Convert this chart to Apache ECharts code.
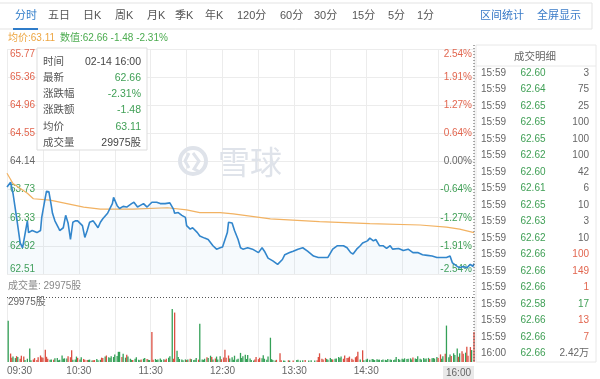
<!DOCTYPE html>
<html><head><meta charset="utf-8">
<script src="https://cdn.jsdelivr.net/npm/echarts@6/dist/echarts.min.js"></script>
<style>html,body{margin:0;padding:0;background:#fff}#c{width:600px;height:379px}</style>
</head><body><div id="c"></div>
<script>
const FONT = 'Arial, "Liberation Sans", "Noto Sans CJK SC", sans-serif';
const RED = '#e2664f', GREEN = '#3f9f55', GRAY = '#666';

// ---- data ----
const prevClose = 64.14;
const priceMin = 62.51, priceMax = 65.77, priceStep = 0.4075;
const volMax = 29975;

const tabLabels = ['分时','五日','日K','周K','月K','季K','年K','120分','60分','30分','15分','5分','1分'];
const linkLabels = ['区间统计','全屏显示'];

const xLabelMinutes = [0, 60, 120, 180, 240, 300, 390];
const xLabelTexts = ['09:30','10:30','11:30','12:30','13:30','14:30','16:00'];

const priceMinutes = [0,3,5,8,11,13,17,18,21,25,28,29,32,33,35,37,38,40,43,44,47,49,51,53,55,57,59,63,65,67,69,72,74,76,78,80,84,86,88,89,92,94,97,100,104,106,109,111,114,117,121,125,128,132,136,139,140,143,146,149,150,153,155,159,161,165,168,172,175,178,180,184,185,188,190,193,195,197,201,205,210,213,215,218,222,226,230,232,236,239,243,247,251,256,260,264,268,272,276,281,284,287,289,292,295,297,301,303,306,308,311,314,317,320,322,327,331,335,339,343,347,351,355,359,363,367,370,372,376,378,381,384,387,389,390];
const prices = [63.77,63.84,63.68,63.33,62.96,62.89,63.28,63.11,63.14,63.11,63.14,63.33,63.62,63.71,63.70,63.50,63.39,63.28,63.18,63.14,63.18,63.36,63.25,63.01,63.26,63.28,63.28,63.21,63.04,63.14,63.26,63.28,63.23,63.18,63.26,63.31,63.39,63.46,63.53,63.62,63.50,63.46,63.49,63.48,63.53,63.55,63.48,63.50,63.53,63.48,63.55,63.55,63.53,63.53,63.54,63.45,63.39,63.40,63.36,63.33,63.21,63.16,63.18,63.11,63.06,63.03,63.01,62.92,62.87,62.89,62.90,63.11,63.26,63.25,63.14,63.01,62.89,62.87,62.89,62.87,62.82,62.89,62.84,62.74,62.70,62.65,62.72,62.79,62.82,62.84,62.87,62.89,62.84,62.77,62.75,62.75,62.75,62.87,62.92,62.92,62.89,62.82,62.80,62.87,62.92,62.96,62.99,63.03,62.99,63.01,62.92,62.92,62.88,62.92,62.87,62.88,62.85,62.87,62.82,62.82,62.79,62.78,62.77,62.75,62.75,62.75,62.77,62.67,62.62,62.60,62.62,62.60,62.65,62.62,62.66];

const avgMinutes = [0,5,17,22,36,50,64,78,105,134,150,161,178,189,220,261,303,345,367,378,390];
const avgPrices = [63.97,63.82,63.68,63.60,63.58,63.53,63.48,63.45,63.45,63.47,63.44,63.40,63.40,63.38,63.31,63.27,63.24,63.22,63.19,63.16,63.11];

const volMinutes = [1,3,4,5,7,8,9,11,12,14, 15,17,19,20,22,23,25,26,28,29, 30,32,33,34,36,37,39,40,42,43, 44,46,47,48,50,51,53,54,55,57,
 58,59,61,62,64,65,67,68,69,71, 72,73,75,76,78,79,80,82,83,85, 86,87,89,90,92,93,94,96,97,99, 100,101,103,104,105,107,108,110,111,112,
 114,115,117,118,119,121,122,124,125,126, 128,129,131,132,133,135,136,138,139,140, 142,143,144,146,147,149,150,151,153,154,
 156,157,158,160,161,163,164,165,167,168, 170,171,172,174,175,176,178,179,181,182, 183,185,186,188,189,190,192,193,195,196,
 197,199,200,201,203,204,206,207,208,210, 211,213,214,215,217,218,220,221,222,224, 225,228,229,231,232,235,236,239,242,243,
 245,247,249,252,254,257,259,260,261,263, 264,266,267,268,270,271,272,274,275,277, 278,279,281,282,284,285,286,288,289,291,
 292,293,295,297,298,300,301,303,305,306, 307,309,310,311,313,314,316,317,318,320, 321,323,324,325,327,328,330,331,332,334,
 335,337,338,339,341,342,343,345,346,348, 349,350,352,353,355,356,357,359,360,362, 363,364,366,367,369,370,371,373,374,376,
 377,378,380,381,383,384,385,387,388,390];
const volValues = [19000,3900,2000,2500,1800,2700,2300,1500,2900,2500, 900,1500,6200,800,1200,1800,900,2200,3000,2200, 2000,5700,2400,1500,1000,1200,1000,1700,1900,800, 1000,3000,1500,1700,1600,2700,2200,5400,1000,1200,
 2500,1900,1200,2200,1400,1000,900,1000,1100,700, 800,900,1400,800,1000,2000,1800,2500,3000,2200, 1900,2600,2300,3500,2800,4700,4700,2300,3800,2000, 3400,2500,1500,1000,900,1500,2200,1000,800,1100,
 1500,1800,1400,1000,900,13800,1000,1400,900,1100, 1600,1000,1300,900,1500,2000,2700,24400,1500,22800, 5200,2300,1400,1100,800,1200,900,1100,1500,1300,
 900,1000,1900,1100,17600,1200,1000,1500,2200,1800, 2900,2300,1100,1600,2500,1200,2600,1300,2100,5700, 2000,3000,1600,2200,1000,2900,1200,1500,4200,1800,
 2600,3300,1400,3200,1600,900,700,1200,2300,1300, 2000,1700,3100,1500,1000,2500,11200,1300,900,700, 1000,4000,800,700,600,800,700,700,900,1000,
 700,800,900,700,800,700,800,2300,4000,1500, 1200,1900,1400,1000,1800,1300,1100,1500,1600,2300, 1800,2500,1500,3000,1800,2000,2500,1500,1000,2200,
 2700,4700,1100,5400,800,1200,1500,1000,1400,1200, 900,1300,1000,1100,900,1200,1000,800,1400,1200, 1000,900,1100,2300,1400,1000,1500,1200,1700,1400,
 1500,1700,1200,2100,1600,1400,2600,1500,1200,1800, 1300,1600,1900,1400,1700,1900,1600,2300,1800,3500, 1500,2600,3800,16800,2200,3500,2800,4000,3200,6200,
 2400,4000,5000,3800,4300,7000,2900,6900,5500,13800];
const volUp = [0,1,1,0,0,1,0,1,1,1, 0,0,0,0,1,1,1,1,1,1, 1,1,1,1,0,0,1,0,0,0, 0,0,0,0,0,1,1,1,0,0,
 0,1,0,0,1,1,1,0,0,0, 1,1,0,0,0,1,1,0,1,0, 0,0,0,0,0,0,0,1,0,0, 1,0,0,0,1,0,0,0,0,1,
 0,0,1,0,0,1,1,0,0,0, 0,0,0,1,1,0,0,0,1,1, 0,0,0,0,0,0,1,0,1,0,
 0,0,0,1,0,0,0,0,1,0, 0,1,0,1,0,0,0,1,1,1, 1,1,0,0,0,0,0,0,0,0,
 0,0,0,0,0,0,0,1,1,1, 1,0,0,0,0,0,0,0,0,0, 1,1,1,0,0,1,0,1,0,0,
 0,0,1,0,0,0,1,1,1,1, 1,1,0,0,0,0,1,0,0,0, 0,0,1,1,1,1,1,1,1,1,
 1,1,0,1,0,0,0,0,0,0, 0,0,0,0,0,0,0,0,0,0, 0,0,0,0,0,0,0,0,0,0,
 0,0,0,1,0,0,0,0,0,0, 0,0,0,1,0,0,0,0,1,1, 0,0,1,0,0,0,1,0,0,0,
 1,0,1,1,0,1,1,1,0,1];

const tipLabels = ['时间','最新','涨跌幅','涨跌额','均价','成交量'];
const tipValues = ['02-14 16:00','62.66','-2.31%','-1.48','63.11','29975股'];
const tipValueUp = [null, -1, -1, -1, -1, null];

const tradeTimes = ['15:59','15:59','15:59','15:59','15:59','15:59','15:59','15:59','15:59','15:59','15:59','15:59','15:59','15:59','15:59','15:59','15:59','16:00'];
const tradePrices = ['62.60','62.64','62.65','62.65','62.65','62.62','62.60','62.61','62.65','62.63','62.62','62.66','62.66','62.66','62.58','62.66','62.66','62.66'];
const tradeVols = ['3','75','25','100','100','100','42','6','10','3','10','100','149','1','17','13','7','2.42万'];
const tradeSide = [0,0,0,0,0,0,0,0,0,0,0,1,1,1,-1,1,1,0];

// ---- layout (positions only) ----
const tabX = [15,48,83,115,147,175,205,237,280,314,352,388,417];
const linkX = [480,537];

function priceColor(v){ if (v > prevClose + 1e-6) return RED; if (v < prevClose - 1e-6) return GREEN; return GRAY; }
function fmtPrice(v){ return (Math.round(v*100 + 1e-4)/100).toFixed(2); }
function fmtPct(v){ const p = (v/prevClose - 1)*100; const r = Math.round(Math.abs(p)*100 + 1e-4)/100; if (r === 0) return '0.00%'; return (p < 0 ? '-' : '') + r.toFixed(2) + '%'; }
function sideColor(s){ return s > 0 ? RED : (s < 0 ? GREEN : GRAY); }

const chart = echarts.init(document.getElementById('c'), null, {renderer:'canvas'});

const graphics = [];
// tab bar
graphics.push({type:'rect', shape:{x:-1,y:3,width:593,height:26}, style:{fill:'#fff', stroke:'#e3e3e3', lineWidth:1}, z:50});
tabLabels.forEach((t,i)=>graphics.push({type:'text', x:tabX[i], y:16, style:{text:t, fill: i===0 ? '#2f7cc9' : '#555', font:'11px '+FONT, verticalAlign:'middle'}, z:51}));
graphics.push({type:'rect', shape:{x:13,y:28,width:25,height:2}, style:{fill:'#2f7cc9'}, z:52});
linkLabels.forEach((t,i)=>graphics.push({type:'text', x:linkX[i], y:16, style:{text:t, fill:'#3a7bc8', font:'11px '+FONT, verticalAlign:'middle'}, z:51}));
// legend line
graphics.push({type:'text', x:8, y:38, style:{text:'均价:' + avgPrices[avgPrices.length-1].toFixed(2), fill:'#eda540', font:'10px '+FONT, verticalAlign:'middle'}, z:51});
graphics.push({type:'text', x:60, y:38, style:{text:'数值:62.66 -1.48 -2.31%', fill:'#4bab4f', font:'10px '+FONT, verticalAlign:'middle'}, z:51});
// volume title
graphics.push({type:'text', x:8, y:286, style:{text:'成交量: ' + volMax + '股', fill:'#888', font:'10px '+FONT, verticalAlign:'middle'}, z:51});
// watermark
graphics.push({type:'circle', shape:{cx:193, cy:161, r:13}, style:{fill:'none', stroke:'#dfe3ea', lineWidth:4}, z:1});
graphics.push({type:'polyline', shape:{points:[[189,153],[185,161],[189,168]]}, style:{fill:'none', stroke:'#dfe3ea', lineWidth:3}, z:1});
graphics.push({type:'polyline', shape:{points:[[193,153],[199,161],[194,169],[200,172]]}, style:{fill:'none', stroke:'#dfe3ea', lineWidth:3}, z:1});
graphics.push({type:'text', x:218, y:162, style:{text:'雪球', fill:'#dfe3ea', font:'32px "Noto Sans CJK SC", sans-serif', verticalAlign:'middle'}, z:1});
// tooltip box
graphics.push({type:'rect', shape:{x:37,y:48,width:110,height:102}, style:{fill:'#fff', stroke:'#dddddd', lineWidth:1}, z:60});
tipLabels.forEach((t,i)=>{
  const y = 62 + 16.2*i;
  graphics.push({type:'text', x:43, y:y, style:{text:t, fill:'#555', font:'10.5px '+FONT, verticalAlign:'middle'}, z:61});
  graphics.push({type:'text', x:141, y:y, style:{text:tipValues[i], fill: tipValueUp[i] == null ? '#444' : sideColor(tipValueUp[i]), font:'10.5px '+FONT, align:'right', verticalAlign:'middle'}, z:61});
});
// trades panel
graphics.push({type:'rect', shape:{x:476,y:45,width:120,height:317}, style:{fill:'#fff', stroke:'#e8e8e8', lineWidth:1}, z:40});
graphics.push({type:'text', x:535, y:57, style:{text:'成交明细', fill:'#666', font:'10.5px '+FONT, align:'center', verticalAlign:'middle'}, z:41});
graphics.push({type:'line', shape:{x1:476,y1:66,x2:596,y2:66}, style:{stroke:'#e8e8e8', lineWidth:1}, z:41});
tradeTimes.forEach((t,i)=>{
  const y = 73 + 16.5*i;
  graphics.push({type:'text', x:481, y:y, style:{text:t, fill:'#666', font:'10px '+FONT, verticalAlign:'middle'}, z:41});
  graphics.push({type:'text', x:533, y:y, style:{text:tradePrices[i], fill: priceColor(parseFloat(tradePrices[i])), font:'10px '+FONT, align:'center', verticalAlign:'middle'}, z:41});
  graphics.push({type:'text', x:589, y:y, style:{text:tradeVols[i], fill: sideColor(tradeSide[i]), font:'10px '+FONT, align:'right', verticalAlign:'middle'}, z:41});
});
graphics.forEach((g,i)=>{ g.id = 'g' + i; });

const priceData = priceMinutes.map((m,i)=>[m, prices[i]]);
const avgData = avgMinutes.map((m,i)=>[m, avgPrices[i]]);
const volData = volMinutes.map((m,i)=>({value:[m, volValues[i]], itemStyle:{color: volUp[i] ? '#dc4f42' : '#34a057'}}));

const splitLineStyle = {show:true, lineStyle:{color:'#ececec', width:1}};

chart.setOption({
  animation:false,
  backgroundColor:'#fff',
  textStyle:{fontFamily:FONT},
  grid:[
    {left:7, right:126, top:49, height:225},
    {left:7, right:126, top:297, height:65}
  ],
  xAxis:[
    {type:'value', gridIndex:0, min:0, max:390, interval:30, axisLine:{show:false}, axisTick:{show:false}, axisLabel:{show:false}, splitLine:splitLineStyle},
    {type:'value', gridIndex:1, min:0, max:390, interval:30, axisLine:{show:false}, axisTick:{show:false}, splitLine:splitLineStyle,
      axisLabel:{show:true, margin:4, fontSize:10, color:'#666', fontFamily:FONT, showMinLabel:true, showMaxLabel:true,
        alignMinLabel:'left', alignMaxLabel:'right', hideOverlap:false,
        formatter:function(v){ const i = xLabelMinutes.indexOf(v); if (i < 0) return ''; if (v === 390) return '{hl|' + xLabelTexts[i] + '}'; return xLabelTexts[i]; },
        rich:{hl:{backgroundColor:'#e9e9e9', padding:[2,3,1,3], color:'#666', fontSize:10, fontFamily:FONT}}
      }}
  ],
  yAxis:[
    {type:'value', gridIndex:0, position:'left', min:priceMin, max:priceMax, interval:priceStep, scale:true,
      axisLine:{show:false}, axisTick:{show:false}, splitLine:splitLineStyle,
      axisLabel:{inside:true, margin:3, fontSize:10, fontFamily:FONT, showMinLabel:true, showMaxLabel:true,
        verticalAlignMinLabel:'bottom', verticalAlignMaxLabel:'top',
        formatter:fmtPrice, color:function(v){ return priceColor(parseFloat(v)); }}},
    {type:'value', gridIndex:0, position:'right', min:priceMin, max:priceMax, interval:priceStep, scale:true,
      axisLine:{show:false}, axisTick:{show:false}, splitLine:{show:false},
      axisLabel:{inside:true, margin:2, fontSize:10, fontFamily:FONT, showMinLabel:true, showMaxLabel:true,
        verticalAlignMinLabel:'bottom', verticalAlignMaxLabel:'top',
        formatter:fmtPct, color:function(v){ return priceColor(parseFloat(v)); }}},
    {type:'value', gridIndex:1, min:0, max:volMax, interval:volMax,
      axisLine:{show:false}, axisTick:{show:false}, splitLine:{show:false},
      axisLabel:{inside:true, margin:1, fontSize:10, color:'#666', fontFamily:FONT, showMaxLabel:true, verticalAlignMaxLabel:'top',
        formatter:function(v){ return v === volMax ? v + '股' : ''; }}}
  ],
  series:[
    {type:'line', name:'价格', xAxisIndex:0, yAxisIndex:0, data:priceData, showSymbol:false, z:5,
      lineStyle:{color:'#3286cc', width:1.6}, itemStyle:{color:'#3286cc'},
      areaStyle:{origin:'start', color:'rgba(80,150,220,0.07)'}},
    {type:'line', name:'均价', xAxisIndex:0, yAxisIndex:0, data:avgData, showSymbol:false, z:4,
      lineStyle:{color:'#f2b262', width:1.2}, itemStyle:{color:'#f2b262'}},
    {type:'bar', name:'成交量', xAxisIndex:1, yAxisIndex:2, data:volData, barWidth:1.3, barMinHeight:1,
      markLine:{silent:true, symbol:'none', label:{show:false}, lineStyle:{type:[1,2], color:'#555', width:1}, data:[{yAxis:volMax}]}}
  ],
  graphic:{elements:graphics}
});

const crossX = chart.convertToPixel({xAxisIndex:0}, 390);
const topY = chart.convertToPixel({yAxisIndex:0}, priceMax) - 4;
const botY = chart.convertToPixel({yAxisIndex:2}, 0);
chart.setOption({graphic:{elements:[
  {id:'crossV', type:'line', shape:{x1:crossX, y1:topY, x2:crossX, y2:botY}, style:{stroke:'#555', lineWidth:1, lineDash:[1,2]}, z:70}
]}});
</script>
</body></html>
